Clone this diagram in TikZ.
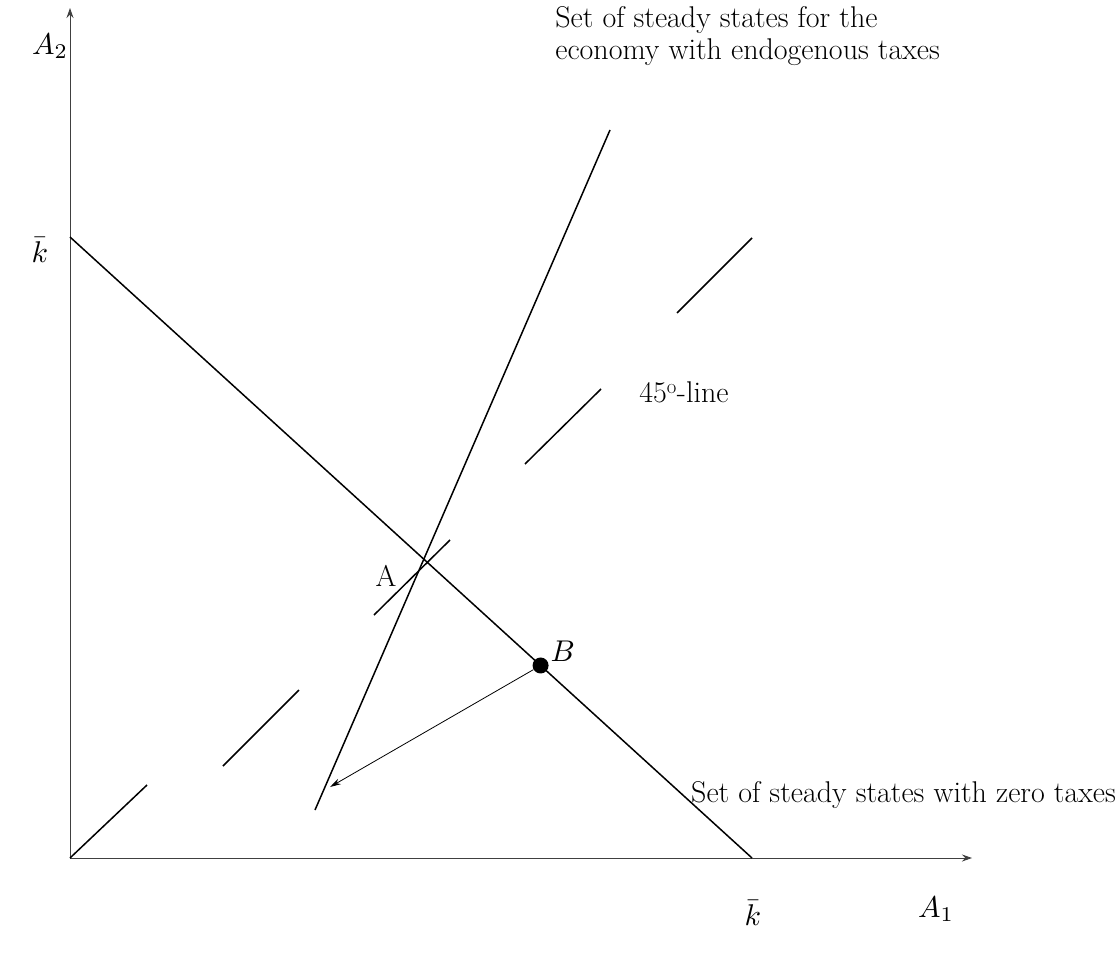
\documentclass[tikz,border=0pt]{standalone}
\usepackage{graphicx}
\usetikzlibrary{arrows.meta,calc}
\begin{document}
\begin{tikzpicture}[x=1pt,y=-1pt,
  lbl/.style={inner sep=0pt,font=\fontsize{30}{32}\selectfont},
  mlbl/.style={inner sep=0pt,font=\fontsize{10}{12}\selectfont},
  main/.style={line width=1.5pt,black},
  axis/.style={line width=0.9pt,black!75,-{Stealth[length=10pt,width=7pt]}},
  seg/.style={line width=1.5pt,black}]
\useasboundingbox (0,0) rectangle (1119,961);
\coordinate (O) at (70,858);
\coordinate (ytop) at (70,8);
\coordinate (xend) at (972,858);
\coordinate (kbary) at (70,237);
\coordinate (kbarx) at (752,858);
\coordinate (eLow) at (315,810);
\coordinate (eHigh) at (610,130);
\coordinate (arrEnd) at (330,787);
\draw[axis] (O) -- (ytop);
\draw[axis] (O) -- (xend);
\draw[main] (kbary) -- (kbarx);
\draw[main] (eLow) -- (eHigh);
% 45-degree line, drawn as separate dashes
\coordinate (d1a) at (70,858);  \coordinate (d1b) at (147,785);
\coordinate (d2a) at (223,766); \coordinate (d2b) at (299,690);
\coordinate (d3a) at (374,615); \coordinate (d3b) at (450,540);
\coordinate (d4a) at (525,464); \coordinate (d4b) at (601,389);
\coordinate (d5a) at (677,313); \coordinate (d5b) at (752,238);
\draw[seg] (d1a) -- (d1b);
\draw[seg] (d2a) -- (d2b);
\draw[seg] (d3a) -- (d3b);
\draw[seg] (d4a) -- (d4b);
\draw[seg] (d5a) -- (d5b);
\node[circle,fill=black,minimum size=16pt,inner sep=0pt] (B) at ($(kbary)!0.69!(kbarx)$) {};
\draw[line width=0.8pt,-{Stealth[length=11pt,width=6pt]}] (B) -- (arrEnd);
\node[mlbl] (A2) at (50,46) {\scalebox{3.0}{$A_2$}};
\node[mlbl] (kylab) at (40,250) {\scalebox{3.0}{$\bar{k}$}};
\node[mlbl] (kxlab) at (753,913) {\scalebox{3.0}{$\bar{k}$}};
\node[mlbl] (A1) at (936,909) {\scalebox{3.0}{$A_1$}};
\node[lbl] (Alab) at (386,576) {A};
\node[mlbl,anchor=south west] (Blab) at ([xshift=4pt,yshift=-2pt]B.north east) {\scalebox{3.0}{$B$}};
\node[lbl] (ff) at (684,392) {45$^{\mathrm{o}}$-line};
\node[lbl,anchor=north east,align=left] (endo) at (940,6) {Set of steady states for the\\economy with endogenous taxes};
\node[lbl,anchor=east] (zero) at (1116,795) {Set of steady states with zero taxes};
\end{tikzpicture}
\end{document}
